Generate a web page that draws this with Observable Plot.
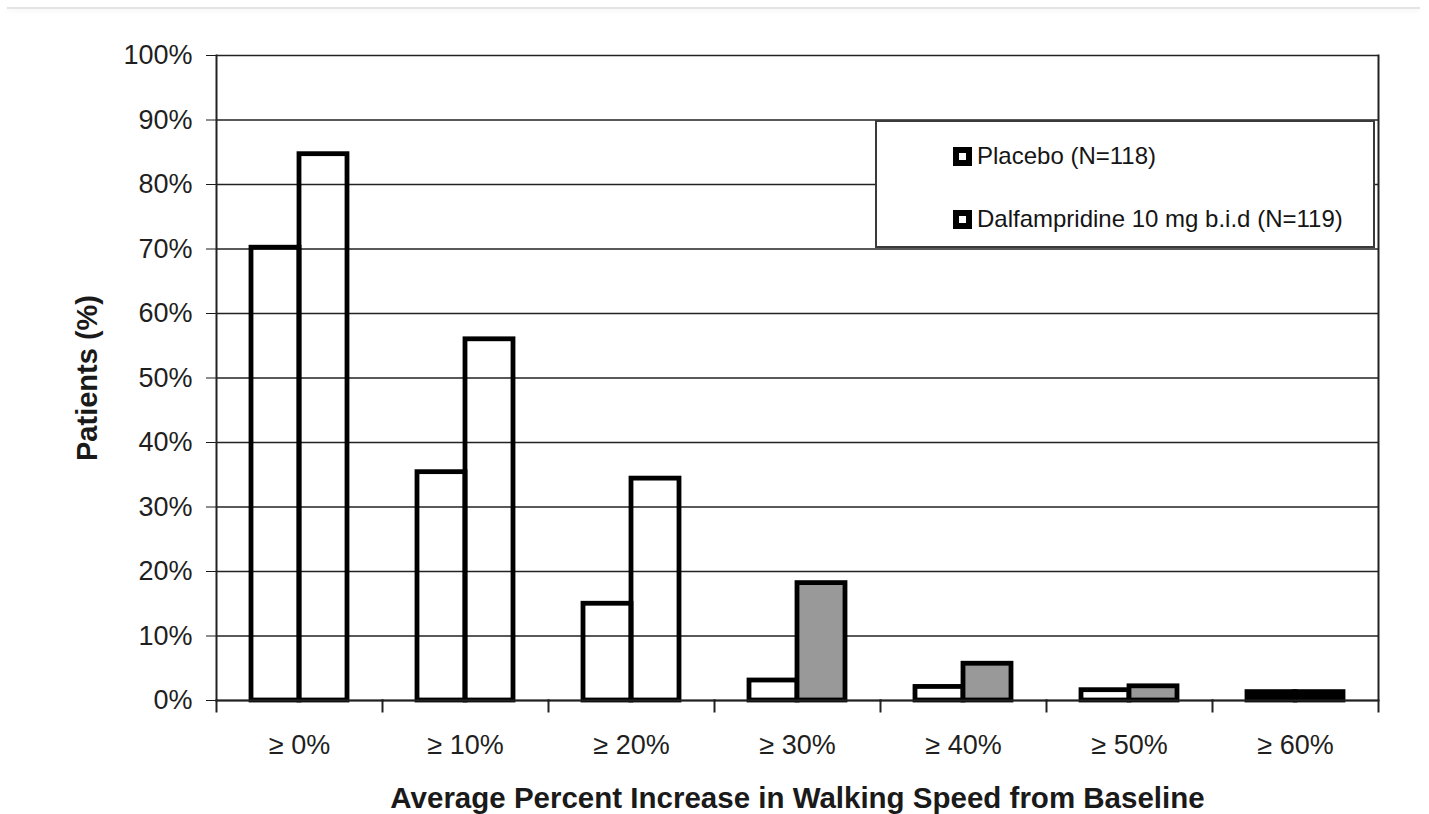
<!DOCTYPE html>
<html>
<head>
<meta charset="utf-8">
<script src="https://cdn.jsdelivr.net/npm/d3@7"></script>
<script src="https://cdn.jsdelivr.net/npm/@observablehq/plot@0.6"></script>
<style>
  html, body { margin: 0; padding: 0; background: #fff; }
  #wrap { position: relative; width: 1429px; height: 814px; overflow: hidden; font-family: "Liberation Sans", Arial, sans-serif; }
  #topline { position: absolute; left: 7px; right: 9px; top: 7px; height: 2px; background: #e4e4e4; box-shadow: 0 2px 4px rgba(0,0,0,0.06); }
  svg { font-family: "Liberation Sans", Arial, sans-serif; color: #1a1a1a; }
  g[aria-label="fx-axis tick label"] { font-size: 27px; fill: #1f1f1f; }
  g[aria-label="y-axis tick label"] { font-size: 27px; fill: #1f1f1f; }
  g[aria-label="y-axis label"] { font-size: 29px; font-weight: bold; fill: #1a1a1a; }
  g[aria-label="fx-axis label"] { font-size: 29.5px; font-weight: bold; fill: #1a1a1a; }
  #legend { position: absolute; left: 875px; top: 120px; width: 496px; height: 124px; background: #fff; border: 2px solid #3a3a3a; font-family: "Liberation Sans", Arial, sans-serif; font-size: 24px; color: #151515; }
  .row { position: absolute; left: 76px; display: flex; align-items: center; white-space: nowrap; }
  .sw { width: 19px; height: 19px; background: #000; position: relative; margin-right: 5px; box-sizing: border-box; border: 6px solid #000; }
  .sw::after { content: ""; position: absolute; inset: 0; background: #fff; }
</style>
</head>
<body>
<div id="wrap">
  <div id="topline"></div>
  <div id="chart"></div>
  <div id="legend"></div>
</div>
<script>
const categories = ["≥ 0%", "≥ 10%", "≥ 20%", "≥ 30%", "≥ 40%", "≥ 50%", "≥ 60%"];
const seriesNames = ["Placebo (N=118)", "Dalfampridine 10 mg b.i.d (N=119)"];
const placebo = [70.2, 35.4, 15.0, 3.1, 2.1, 1.6, 1.3];
const dalfampridine = [84.7, 56.0, 34.4, 18.2, 5.7, 2.2, 1.3];
const yTicks = [0, 10, 20, 30, 40, 50, 60, 70, 80, 90, 100];
const xTitle = "Average Percent Increase in Walking Speed from Baseline";
const yTitle = "Patients (%)";

const data = categories.flatMap((cat, i) => [
  {cat, series: seriesNames[0], value: placebo[i], i},
  {cat, series: seriesNames[1], value: dalfampridine[i], i}
]);

const W = 1429, H = 814, mT = 55, mB = 114, mL = 215, mR = 51;
const innerH = H - mT - mB;

const barFill = d => d.i === categories.length - 1 ? "#000"
  : (d.series === seriesNames[1] && d.i >= 3 ? "#999" : "none");

const chart = Plot.plot({
  width: W,
  height: H,
  marginTop: mT,
  marginBottom: mB,
  marginLeft: mL,
  marginRight: mR,
  fx: {domain: categories, padding: 0, axis: "bottom", tickSize: 0, tickPadding: 34,
       label: xTitle, labelAnchor: "center", labelOffset: 107},
  x: {domain: seriesNames, axis: null, paddingInner: 0, paddingOuter: 0.7},
  y: {domain: [0, 100], ticks: yTicks, tickSize: 10, tickPadding: 14, tickFormat: d => d + "%",
      label: yTitle, labelAnchor: "center", labelOffset: 140, labelArrow: "none"},
  marks: [
    Plot.ruleY(yTicks, {stroke: "#222", strokeWidth: 1.7}),
    Plot.barY(data, {fx: "cat", x: "series", y: "value", fill: barFill, stroke: "#000", strokeWidth: 4.8}),
    Plot.frame({anchor: "bottom", stroke: "#222", strokeWidth: 2}),
    Plot.frame({anchor: "left", stroke: "#222", strokeWidth: 2, insetTop: innerH, insetBottom: -11}),
    Plot.frame({anchor: "left", fx: categories[0], stroke: "#222", strokeWidth: 2}),
    Plot.frame({anchor: "right", fx: categories[categories.length - 1], stroke: "#222", strokeWidth: 2, insetBottom: -11})
  ]
});
document.getElementById("chart").appendChild(chart);

const legend = document.getElementById("legend");
seriesNames.forEach((name, k) => {
  const row = document.createElement("div");
  row.className = "row";
  row.style.top = (k === 0 ? 20 : 83) + "px";
  const sw = document.createElement("span");
  sw.className = "sw";
  const label = document.createElement("span");
  label.textContent = name;
  row.appendChild(sw);
  row.appendChild(label);
  legend.appendChild(row);
});
</script>
</body>
</html>
